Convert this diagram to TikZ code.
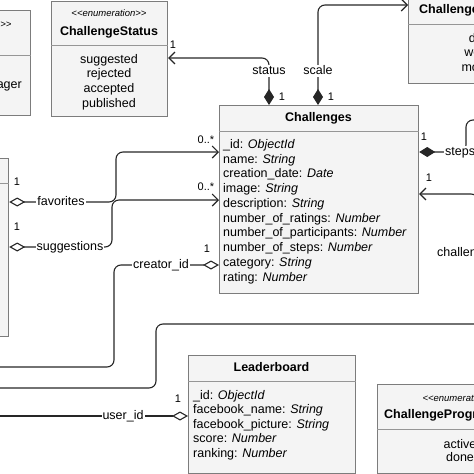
\documentclass[tikz,border=0pt]{standalone}
\usepackage{fontspec}
\setmainfont{Liberation Sans}
\usetikzlibrary{arrows.meta}
\usetikzlibrary{positioning}

\definecolor{boxfill}{HTML}{F4F4F4}
\definecolor{boxline}{HTML}{7C7C7C}

\newcommand{\enumtag}{<\kern0pt<enumeration>\kern0pt>}

\tikzset{
  classbox/.style={draw=boxline, fill=boxfill, line width=1.2pt, inner sep=0pt, anchor=north west},
  divider/.style={draw=boxline!80, line width=0.8pt},
  attr/.style={anchor=west, inner sep=0pt, text height=8.5pt, text depth=2pt, font=\fontsize{12.5}{14.8}\selectfont},
  enumval/.style={attr, anchor=center},
  title/.style={attr, anchor=center, font=\fontsize{12.5}{14.8}\selectfont\bfseries},
  stereo/.style={attr, anchor=center, font=\fontsize{9.5}{12}\selectfont\itshape},
  mult/.style={inner sep=0pt, font=\fontsize{11}{13}\selectfont},
  role/.style={fill=white, inner sep=1pt, text height=8.5pt, text depth=2pt, font=\fontsize{12.5}{14.8}\selectfont},
  link/.style={draw=black!85, line width=1.1pt, rounded corners=7pt},
  comp/.tip={Diamond[length=16pt,width=10pt]},
  aggr/.tip={Diamond[open,length=16pt,width=9pt]},
  barb/.tip={Straight Barb[length=6pt,width=12pt]},
}

\begin{document}
\begin{tikzpicture}[x=1pt, y=-1pt]
\useasboundingbox (0,0) rectangle (474,474);
\clip (0,0) rectangle (474,474);

% class boxes
\node[classbox, minimum width=110pt, minimum height=105pt] (urole) at (-80,10) {};
\node[classbox, minimum width=116pt, minimum height=115pt] (stat) at (51,1) {};
\node[classbox, minimum width=150pt, minimum height=113pt] (scal) at (408,-30) {};
\node[classbox, minimum width=199pt, minimum height=188pt] (chal) at (219,105) {};
\node[classbox, minimum width=108pt, minimum height=178pt] (user) at (-100,158) {};
\node[classbox, minimum width=167pt, minimum height=118pt] (lead) at (188,355) {};
\node[classbox, minimum width=166pt, minimum height=89pt] (prog) at (377,384) {};

\foreach \b/\y in {urole/55, stat/45, scal/24, chal/131, user/183, lead/381, prog/429}
  \draw[divider] (\b.west |- 0,\y) -- (\b.east |- 0,\y);

% texts
\node[stereo] (urole-s) at (-26,24) {\enumtag};
\node[attr, anchor=east] (urole-v) at (22,85) {manager};

\node[stereo] (stat-s) at (109,13) {\enumtag};
\node[title] (stat-t) at (109,32) {ChallengeStatus};
\foreach \t [count=\i from 0] in {suggested, rejected, accepted, published}
  \node[enumval] (stat-v\i) at (109,{60+14.7*\i}) {\t};

\node[title, anchor=west] (scal-t) at (419,10) {ChallengeScale};
\foreach \t [count=\i from 0] in {days, weeks, months}
  \node[enumval] (scal-v\i) at (482,{39+14.6*\i}) {\t};

\node[title] (chal-t) at (318.5,118) {Challenges};
\foreach \t [count=\i from 0] in {\_id: \textit{ObjectId}, name: \textit{String},
    creation\_date: \textit{Date}, image: \textit{String}, description: \textit{String},
    number\_of\_ratings: \textit{Number}, number\_of\_participants: \textit{Number},
    number\_of\_steps: \textit{Number}, category: \textit{String}, rating: \textit{Number}}
  \node[attr] (chal-a\i) at (223,{145+14.78*\i}) {\t};

\node[title] (lead-t) at (271.5,368) {Leaderboard};
\foreach \t [count=\i from 0] in {\_id: \textit{ObjectId}, facebook\_name: \textit{String},
    facebook\_picture: \textit{String}, score: \textit{Number}, ranking: \textit{Number}}
  \node[attr] (lead-a\i) at (193,{396+14.5*\i}) {\t};

\node[stereo] (prog-s) at (460,398) {\enumtag};
\node[title, anchor=west] (prog-t) at (384,415) {ChallengeProgress};
\node[enumval] (prog-v0) at (460,445) {active};
\node[enumval] (prog-v1) at (460,458.5) {done};

% loose ends
\coordinate (stepsEnd) at (490,120);
\coordinate (chEnd) at (478,320);
\coordinate (creEnd) at (-10,367);
\coordinate (bigA) at (-10,388);
\coordinate (bigB) at (490,324);
\coordinate (uidEnd) at (-10,416);

% connectors
\draw[link, comp-barb] (chal.north -| 269,0) -- (269,58) -- (stat.east |- 0,58);
\draw[link, comp-barb] (chal.north -| 318,0) -- (318,5) -- (scal.west |- 0,5);
\draw[link, comp-] (chal.east |- 0,152) -- (466,152) -- (466,120) -- (stepsEnd);
\draw[link, barb-] (chal.east |- 0,194) -- (478,194) -- (chEnd);
\draw[link, aggr-barb] (user.east |- 0,202) -- (116,202) -- (116,152) -- (chal.west |- 0,152);
\draw[link, aggr-barb] (user.east |- 0,247) -- (112,247) -- (112,200) -- (chal.west |- 0,200);
\draw[link, aggr-] (chal.west |- 0,265) -- (114,265) -- (114,367) -- (creEnd);
\draw[link] (bigA) -- (156,388) -- (156,324) -- (bigB);
\draw[link, aggr-] (lead.west |- 0,416) -- (uidEnd);

% roles
\node[role] (r-status) at (269,71) {status};
\node[role] (r-scale) at (318,71) {scale};
\node[role, anchor=west] (r-steps) at (444,152) {steps};
\node[role, anchor=west] (r-chal) at (436,253) {challenge\_id};
\node[role] (r-fav) at (61,202) {favorites};
\node[role] (r-sug) at (70,247) {suggestions};
\node[role] (r-cre) at (161,265) {creator\_id};
\node[role] (r-uid) at (123,416) {user\_id};

% multiplicities
\foreach \p/\m [count=\i] in {{(282,97)}/1, {(331,97)}/1, {(173,45)}/1, {(424,137)}/1,
    {(429,178)}/1, {(17,182)}/1, {(17,227)}/1, {(207,249)}/1, {(178,399)}/1,
    {(206,140)}/0..*, {(206,187)}/0..*}
  \node[mult] (m\i) at \p {\m};

\end{tikzpicture}
\end{document}
